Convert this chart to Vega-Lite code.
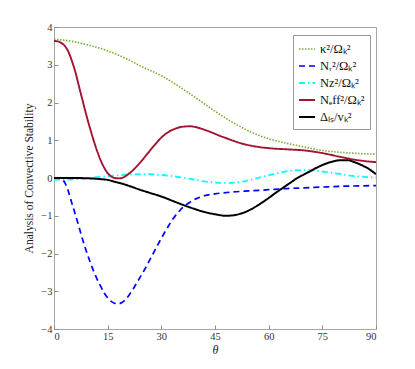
{
  "$schema": "https://vega.github.io/schema/vega-lite/v6.json",
  "autosize": "none",
  "width": 322,
  "height": 302,
  "padding": {"left": 54, "top": 27, "right": 39, "bottom": 40},
  "background": "white",
  "config": {
    "view": {"stroke": "#a6a6a6", "strokeWidth": 1},
    "font": "Liberation Serif",
    "axis": {
      "domain": false,
      "grid": false,
      "ticks": true,
      "tickColor": "#8c8c8c",
      "tickSize": -4,
      "labelFont": "Liberation Serif",
      "labelFontSize": 10.5,
      "labelColor": "#333333",
      "titleFont": "Liberation Serif",
      "titleFontWeight": "normal",
      "titleColor": "#1a1a1a"
    },
    "legend": {
      "labelFont": "Liberation Serif",
      "labelFontSize": 12.5,
      "labelColor": "#111111"
    }
  },
  "data": {
    "values": [
      {"s": "k", "t": 0, "v": 3.68}, {"s": "k", "t": 5, "v": 3.62}, {"s": "k", "t": 10, "v": 3.51}, {"s": "k", "t": 15, "v": 3.37}, {"s": "k", "t": 20, "v": 3.17}, {"s": "k", "t": 25, "v": 2.93}, {"s": "k", "t": 30, "v": 2.71}, {"s": "k", "t": 35, "v": 2.42}, {"s": "k", "t": 40, "v": 2.1}, {"s": "k", "t": 45, "v": 1.77}, {"s": "k", "t": 50, "v": 1.47}, {"s": "k", "t": 55, "v": 1.22}, {"s": "k", "t": 60, "v": 1.04}, {"s": "k", "t": 65, "v": 0.92}, {"s": "k", "t": 70, "v": 0.82}, {"s": "k", "t": 75, "v": 0.73}, {"s": "k", "t": 80, "v": 0.68}, {"s": "k", "t": 85, "v": 0.65}, {"s": "k", "t": 90, "v": 0.63},

      {"s": "r", "t": 0, "v": 0}, {"s": "r", "t": 1, "v": 0}, {"s": "r", "t": 2, "v": -0.02}, {"s": "r", "t": 3, "v": -0.12}, {"s": "r", "t": 4, "v": -0.35}, {"s": "r", "t": 5, "v": -0.67}, {"s": "r", "t": 6, "v": -0.98}, {"s": "r", "t": 7, "v": -1.3}, {"s": "r", "t": 8, "v": -1.63}, {"s": "r", "t": 9, "v": -1.93}, {"s": "r", "t": 10, "v": -2.2}, {"s": "r", "t": 11, "v": -2.45}, {"s": "r", "t": 12, "v": -2.67}, {"s": "r", "t": 13, "v": -2.86}, {"s": "r", "t": 14, "v": -3.04}, {"s": "r", "t": 15, "v": -3.17}, {"s": "r", "t": 16, "v": -3.27}, {"s": "r", "t": 17, "v": -3.32}, {"s": "r", "t": 18, "v": -3.33}, {"s": "r", "t": 19, "v": -3.3}, {"s": "r", "t": 20, "v": -3.22}, {"s": "r", "t": 21, "v": -3.1}, {"s": "r", "t": 22, "v": -2.96}, {"s": "r", "t": 23, "v": -2.8}, {"s": "r", "t": 24, "v": -2.64}, {"s": "r", "t": 25, "v": -2.48}, {"s": "r", "t": 26, "v": -2.31}, {"s": "r", "t": 27, "v": -2.13}, {"s": "r", "t": 28, "v": -1.95}, {"s": "r", "t": 29, "v": -1.77}, {"s": "r", "t": 30, "v": -1.6}, {"s": "r", "t": 31, "v": -1.43}, {"s": "r", "t": 32, "v": -1.27}, {"s": "r", "t": 33, "v": -1.12}, {"s": "r", "t": 34, "v": -0.99}, {"s": "r", "t": 35, "v": -0.88}, {"s": "r", "t": 36, "v": -0.78}, {"s": "r", "t": 38, "v": -0.64}, {"s": "r", "t": 40, "v": -0.54}, {"s": "r", "t": 42, "v": -0.47}, {"s": "r", "t": 45, "v": -0.42}, {"s": "r", "t": 50, "v": -0.37}, {"s": "r", "t": 55, "v": -0.34}, {"s": "r", "t": 60, "v": -0.31}, {"s": "r", "t": 65, "v": -0.28}, {"s": "r", "t": 70, "v": -0.26}, {"s": "r", "t": 75, "v": -0.24}, {"s": "r", "t": 80, "v": -0.22}, {"s": "r", "t": 85, "v": -0.21}, {"s": "r", "t": 90, "v": -0.2},

      {"s": "z", "t": 0, "v": -0.04}, {"s": "z", "t": 3, "v": -0.04}, {"s": "z", "t": 6, "v": -0.03}, {"s": "z", "t": 9, "v": -0.01}, {"s": "z", "t": 12, "v": 0.02}, {"s": "z", "t": 15, "v": 0.05}, {"s": "z", "t": 18, "v": 0.07}, {"s": "z", "t": 21, "v": 0.09}, {"s": "z", "t": 24, "v": 0.1}, {"s": "z", "t": 27, "v": 0.1}, {"s": "z", "t": 30, "v": 0.08}, {"s": "z", "t": 33, "v": 0.05}, {"s": "z", "t": 36, "v": 0.01}, {"s": "z", "t": 39, "v": -0.04}, {"s": "z", "t": 42, "v": -0.09}, {"s": "z", "t": 45, "v": -0.12}, {"s": "z", "t": 48, "v": -0.13}, {"s": "z", "t": 51, "v": -0.12}, {"s": "z", "t": 54, "v": -0.07}, {"s": "z", "t": 57, "v": 0.0}, {"s": "z", "t": 60, "v": 0.07}, {"s": "z", "t": 63, "v": 0.14}, {"s": "z", "t": 66, "v": 0.19}, {"s": "z", "t": 69, "v": 0.21}, {"s": "z", "t": 72, "v": 0.2}, {"s": "z", "t": 75, "v": 0.17}, {"s": "z", "t": 78, "v": 0.13}, {"s": "z", "t": 81, "v": 0.09}, {"s": "z", "t": 84, "v": 0.05}, {"s": "z", "t": 87, "v": 0.03}, {"s": "z", "t": 90, "v": 0.01},

      {"s": "e", "t": 0, "v": 3.63}, {"s": "e", "t": 1, "v": 3.62}, {"s": "e", "t": 2, "v": 3.58}, {"s": "e", "t": 3, "v": 3.5}, {"s": "e", "t": 4, "v": 3.35}, {"s": "e", "t": 5, "v": 3.1}, {"s": "e", "t": 6, "v": 2.8}, {"s": "e", "t": 7, "v": 2.42}, {"s": "e", "t": 8, "v": 2.05}, {"s": "e", "t": 9, "v": 1.68}, {"s": "e", "t": 10, "v": 1.34}, {"s": "e", "t": 11, "v": 1.02}, {"s": "e", "t": 12, "v": 0.73}, {"s": "e", "t": 13, "v": 0.48}, {"s": "e", "t": 14, "v": 0.28}, {"s": "e", "t": 15, "v": 0.13}, {"s": "e", "t": 16, "v": 0.04}, {"s": "e", "t": 17, "v": 0.0}, {"s": "e", "t": 18, "v": -0.01}, {"s": "e", "t": 19, "v": 0.0}, {"s": "e", "t": 20, "v": 0.05}, {"s": "e", "t": 22, "v": 0.2}, {"s": "e", "t": 24, "v": 0.4}, {"s": "e", "t": 26, "v": 0.63}, {"s": "e", "t": 28, "v": 0.86}, {"s": "e", "t": 30, "v": 1.07}, {"s": "e", "t": 32, "v": 1.22}, {"s": "e", "t": 34, "v": 1.31}, {"s": "e", "t": 36, "v": 1.36}, {"s": "e", "t": 38, "v": 1.37}, {"s": "e", "t": 40, "v": 1.34}, {"s": "e", "t": 42, "v": 1.28}, {"s": "e", "t": 44, "v": 1.21}, {"s": "e", "t": 46, "v": 1.13}, {"s": "e", "t": 48, "v": 1.06}, {"s": "e", "t": 50, "v": 0.99}, {"s": "e", "t": 53, "v": 0.9}, {"s": "e", "t": 56, "v": 0.84}, {"s": "e", "t": 60, "v": 0.79}, {"s": "e", "t": 65, "v": 0.76}, {"s": "e", "t": 70, "v": 0.73}, {"s": "e", "t": 75, "v": 0.66}, {"s": "e", "t": 80, "v": 0.56}, {"s": "e", "t": 85, "v": 0.47}, {"s": "e", "t": 90, "v": 0.42},

      {"s": "d", "t": 0, "v": 0}, {"s": "d", "t": 5, "v": 0}, {"s": "d", "t": 10, "v": -0.01}, {"s": "d", "t": 13, "v": -0.03}, {"s": "d", "t": 15, "v": -0.05}, {"s": "d", "t": 17, "v": -0.1}, {"s": "d", "t": 19, "v": -0.15}, {"s": "d", "t": 21, "v": -0.21}, {"s": "d", "t": 24, "v": -0.31}, {"s": "d", "t": 27, "v": -0.4}, {"s": "d", "t": 30, "v": -0.49}, {"s": "d", "t": 33, "v": -0.6}, {"s": "d", "t": 36, "v": -0.71}, {"s": "d", "t": 39, "v": -0.81}, {"s": "d", "t": 42, "v": -0.9}, {"s": "d", "t": 45, "v": -0.96}, {"s": "d", "t": 48, "v": -1.0}, {"s": "d", "t": 50, "v": -0.99}, {"s": "d", "t": 52, "v": -0.95}, {"s": "d", "t": 54, "v": -0.88}, {"s": "d", "t": 56, "v": -0.78}, {"s": "d", "t": 58, "v": -0.66}, {"s": "d", "t": 60, "v": -0.53}, {"s": "d", "t": 62, "v": -0.39}, {"s": "d", "t": 64, "v": -0.26}, {"s": "d", "t": 66, "v": -0.13}, {"s": "d", "t": 68, "v": 0.0}, {"s": "d", "t": 70, "v": 0.1}, {"s": "d", "t": 72, "v": 0.2}, {"s": "d", "t": 74, "v": 0.3}, {"s": "d", "t": 76, "v": 0.38}, {"s": "d", "t": 78, "v": 0.44}, {"s": "d", "t": 80, "v": 0.47}, {"s": "d", "t": 82, "v": 0.47}, {"s": "d", "t": 84, "v": 0.42}, {"s": "d", "t": 86, "v": 0.34}, {"s": "d", "t": 88, "v": 0.24}, {"s": "d", "t": 90, "v": 0.1}
    ]
  },
  "layer": [
    {
      "mark": {"type": "line", "interpolate": "monotone", "clip": true},
      "encoding": {
        "x": {
          "field": "t", "type": "quantitative",
          "scale": {"domain": [0, 90], "nice": false},
          "axis": {"values": [0, 15, 30, 45, 60, 75, 90], "title": "θ", "titleFontStyle": "italic", "titleFontSize": 12, "titlePadding": 3, "labelPadding": 6}
        },
        "y": {
          "field": "v", "type": "quantitative",
          "scale": {"domain": [-4, 4], "nice": false},
          "axis": {"values": [-4, -3, -2, -1, 0, 1, 2, 3, 4], "title": "Analysis of Convective Stability", "titleFontSize": 11.5, "titlePadding": 6, "labelPadding": 6}
        },
        "color": {
          "field": "s", "type": "nominal",
          "scale": {"domain": ["k", "r", "z", "e", "d"], "range": ["#77AC30", "#0000FF", "#00FFFF", "#A2142F", "#000000"]},
          "legend": {
            "title": null,
            "orient": "none",
            "legendX": 239,
            "legendY": 8,
            "strokeColor": "#999999",
            "fillColor": "white",
            "padding": 5,
            "symbolType": "stroke",
            "symbolSize": 256,
            "symbolStrokeWidth": 2,
            "rowPadding": 1,
            "labelExpr": "{'k': 'κ²/Ωₖ²', 'r': 'Nᵣ²/Ωₖ²', 'z': 'Nz²/Ωₖ²', 'e': 'Nₑff²/Ωₖ²', 'd': 'Δₗₛ/vₖ²'}[datum.value]"
          }
        },
        "strokeDash": {
          "field": "s", "type": "nominal",
          "scale": {"domain": ["k", "r", "z", "e", "d"], "range": [[1.5, 1.5], [6, 4], [6, 3, 1.5, 3], [1, 0], [1, 0]]},
          "legend": null
        },
        "strokeWidth": {
          "field": "s", "type": "nominal",
          "scale": {"domain": ["k", "r", "z", "e", "d"], "range": [1.6, 2, 2, 2.6, 2.6]},
          "legend": null
        }
      }
    }
  ]
}
